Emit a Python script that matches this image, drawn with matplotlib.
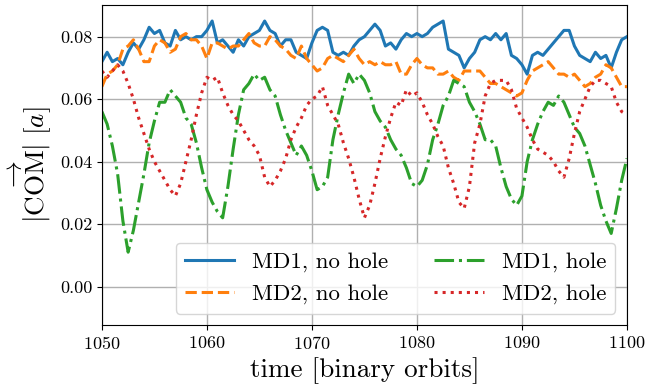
import numpy as np
import matplotlib
matplotlib.use("Agg")
import matplotlib.pyplot as plt

plt.rcParams['font.family'] = 'serif'
plt.rcParams['font.serif'] = ['cmr10']
plt.rcParams['mathtext.fontset'] = 'cm'
plt.rcParams['axes.formatter.use_mathtext'] = True

# time axis, every half orbit
t = np.arange(1050, 1100.01, 0.5)

md1_nohole = [
    0.072, 0.075, 0.072, 0.073, 0.071, 0.075, 0.078, 0.076, 0.079, 0.083,
    0.081, 0.082, 0.078, 0.077, 0.082, 0.079, 0.080, 0.079, 0.080, 0.080,
    0.082, 0.085, 0.078, 0.079, 0.077, 0.075, 0.079, 0.077, 0.080, 0.081,
    0.082, 0.085, 0.082, 0.081, 0.077, 0.079, 0.079, 0.075, 0.074, 0.073,
    0.078, 0.082, 0.083, 0.082, 0.075, 0.074, 0.075, 0.074, 0.077, 0.079,
    0.080, 0.082, 0.084, 0.082, 0.077, 0.078, 0.076, 0.079, 0.081, 0.080,
    0.081, 0.080, 0.081, 0.083, 0.084, 0.085, 0.076, 0.075, 0.074, 0.070,
    0.073, 0.075, 0.079, 0.080, 0.079, 0.081, 0.079, 0.081, 0.074, 0.073,
    0.071, 0.068, 0.074, 0.075, 0.074, 0.076, 0.078, 0.080, 0.082, 0.082,
    0.077, 0.074, 0.073, 0.072, 0.075, 0.073, 0.074, 0.070, 0.075, 0.079,
    0.080]

md2_nohole = [
    0.064, 0.068, 0.069, 0.071, 0.076, 0.077, 0.079, 0.076, 0.072, 0.072,
    0.077, 0.079, 0.078, 0.075, 0.076, 0.080, 0.081, 0.079, 0.079, 0.077,
    0.073, 0.078, 0.078, 0.077, 0.076, 0.077, 0.077, 0.079, 0.081, 0.078,
    0.077, 0.077, 0.080, 0.079, 0.077, 0.076, 0.074, 0.073, 0.077, 0.073,
    0.071, 0.069, 0.070, 0.073, 0.074, 0.073, 0.072, 0.074, 0.076, 0.073,
    0.071, 0.072, 0.071, 0.072, 0.071, 0.071, 0.072, 0.068, 0.068, 0.071,
    0.073, 0.071, 0.070, 0.070, 0.068, 0.068, 0.069, 0.067, 0.066, 0.069,
    0.069, 0.069, 0.069, 0.067, 0.065, 0.065, 0.064, 0.063, 0.062, 0.061,
    0.062, 0.066, 0.069, 0.070, 0.071, 0.072, 0.070, 0.068, 0.068, 0.067,
    0.068, 0.066, 0.064, 0.065, 0.067, 0.068, 0.071, 0.070, 0.067, 0.064,
    0.064]

md1_hole = [
    0.056, 0.052, 0.045, 0.036, 0.021, 0.011, 0.018, 0.027, 0.036, 0.046,
    0.053, 0.059, 0.059, 0.063, 0.061, 0.059, 0.054, 0.052, 0.046, 0.038,
    0.031, 0.027, 0.024, 0.022, 0.032, 0.044, 0.055, 0.063, 0.065, 0.068,
    0.066, 0.067, 0.063, 0.061, 0.055, 0.050, 0.046, 0.042, 0.045, 0.042,
    0.037, 0.031, 0.032, 0.035, 0.047, 0.055, 0.062, 0.068, 0.065, 0.068,
    0.066, 0.062, 0.056, 0.053, 0.051, 0.047, 0.044, 0.042, 0.038, 0.033,
    0.032, 0.034, 0.039, 0.047, 0.052, 0.058, 0.061, 0.066, 0.065, 0.064,
    0.059, 0.056, 0.052, 0.047, 0.047, 0.045, 0.038, 0.032, 0.028, 0.026,
    0.029, 0.040, 0.047, 0.052, 0.056, 0.059, 0.058, 0.061, 0.059, 0.055,
    0.051, 0.049, 0.045, 0.039, 0.033, 0.026, 0.021, 0.017, 0.025, 0.034,
    0.041]

md2_hole = [
    0.069, 0.067, 0.069, 0.071, 0.069, 0.065, 0.060, 0.054, 0.049, 0.044,
    0.040, 0.037, 0.034, 0.031, 0.029, 0.033, 0.040, 0.047, 0.055, 0.062,
    0.067, 0.066, 0.067, 0.062, 0.058, 0.055, 0.053, 0.050, 0.047, 0.045,
    0.042, 0.035, 0.032, 0.034, 0.037, 0.041, 0.047, 0.051, 0.054, 0.058,
    0.060, 0.061, 0.064, 0.058, 0.055, 0.052, 0.046, 0.041, 0.035, 0.028,
    0.022, 0.026, 0.033, 0.041, 0.048, 0.054, 0.059, 0.058, 0.063, 0.061,
    0.062, 0.059, 0.055, 0.052, 0.048, 0.045, 0.038, 0.033, 0.027, 0.025,
    0.032, 0.046, 0.052, 0.061, 0.065, 0.066, 0.066, 0.066, 0.063, 0.057,
    0.054, 0.051, 0.047, 0.044, 0.043, 0.042, 0.040, 0.037, 0.035, 0.041,
    0.049, 0.056, 0.060, 0.064, 0.066, 0.066, 0.065, 0.064, 0.059, 0.056,
    0.055]

fig = plt.figure(figsize=(6.49, 3.92), dpi=100)
ax = fig.add_axes([0.157, 0.171, 0.809, 0.816])

lw = 2.2
ax.plot(t, md1_nohole, '-', lw=lw, label='MD1, no hole')
ax.plot(t, md2_nohole, '--', lw=lw, label='MD2, no hole')
ax.plot(t, md1_hole, '-.', lw=lw, label='MD1, hole')
ax.plot(t, md2_hole, ':', lw=lw, label='MD2, hole')

ax.set_xlim(1050, 1100)
ax.set_ylim(-0.0123, 0.0901)
ax.set_xticks([1050, 1060, 1070, 1080, 1090, 1100])
ax.set_yticks([0.00, 0.02, 0.04, 0.06, 0.08])
ax.yaxis.set_major_formatter(matplotlib.ticker.FormatStrFormatter('%.2f'))
ax.tick_params(labelsize=13)
ax.grid(True, color='#b0b0b0', lw=1.0)

ax.set_xlabel('time [binary orbits]', fontsize=19.5)
ax.set_ylabel(r'$|\overrightarrow{\mathrm{COM}}|\ [a]$', fontsize=19.5)

ax.legend(ncol=2, loc='lower right', fontsize=16.5, handlelength=2.15)

fig.savefig('out.png', dpi=100)
